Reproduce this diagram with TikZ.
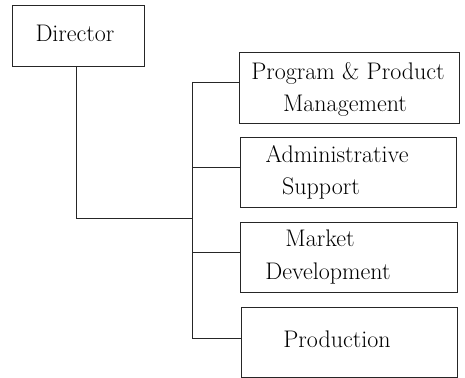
\documentclass[tikz,border=0pt]{standalone}
\usetikzlibrary{fit}
\begin{document}
\begin{tikzpicture}[x=0.75pt,y=-0.75pt,
  ln/.style={draw=black!85, line width=0.6pt},
  box/.style={ln, inner sep=0pt, rectangle},
  lbl/.style={anchor=base, inner sep=0pt, font=\fontsize{18}{22}\selectfont}]
\useasboundingbox (0,0) rectangle (465,378);
% boxes
\node[box, fit={(12,5)(144,66)}] (dir) {};
\node[box, fit={(239,52)(459,123)}] (b1) {};
\node[box, fit={(240,137)(456,207)}] (b2) {};
\node[box, fit={(240,222)(457,292)}] (b3) {};
\node[box, fit={(241,307)(457,377)}] (b4) {};
% labels
\node[lbl] (tdir) at (75,42) {Director};
\node[lbl] (t1a) at (348,80) {Program \& Product};
\node[lbl] (t1b) at (345,112) {Management};
\node[lbl] (t2a) at (337,163) {Administrative};
\node[lbl] (t2b) at (321,195) {Support};
\node[lbl] (t3a) at (320,247) {Market};
\node[lbl] (t3b) at (328,280) {Development};
\node[lbl] (t4) at (337,348) {Production};
% connectors
\coordinate (d0) at (76,66);
\coordinate (j) at (192,218);
\coordinate (k1) at (192,82);
\coordinate (k2) at (192,167);
\coordinate (k3) at (192,252);
\coordinate (k4) at (192,338);
\draw[ln] (d0) -- (d0 |- j) -- (j);
\draw[ln] (k1) -- (k4);
\draw[ln] (k1) -- (k1 -| b1.west);
\draw[ln] (k2) -- (k2 -| b2.west);
\draw[ln] (k3) -- (k3 -| b3.west);
\draw[ln] (k4) -- (k4 -| b4.west);
\end{tikzpicture}
\end{document}
